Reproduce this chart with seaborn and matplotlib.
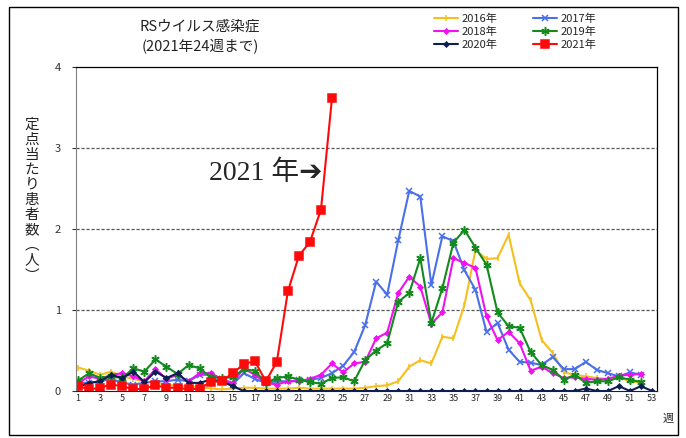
import pandas as pd
import matplotlib.pyplot as plt
from matplotlib.patches import Rectangle
import seaborn as sns

# weekly values per sentinel site
y2016 = [0.29, 0.25, 0.2, 0.24, 0.18, 0.15, 0.12, 0.1, 0.08, 0.06,
         0.06, 0.05, 0.03, 0.02, 0.03, 0.04, 0.04, 0.03, 0.03, 0.03,
         0.04, 0.03, 0.03, 0.03, 0.03, 0.03, 0.04, 0.06, 0.07, 0.12,
         0.3, 0.38, 0.34, 0.67, 0.65, 1.06, 1.74, 1.63, 1.64, 1.93,
         1.33, 1.12, 0.63, 0.47, 0.23, 0.2, 0.18, 0.16, 0.15, 0.17,
         0.12, 0.1]
y2017 = [0.1, 0.1, 0.12, 0.15, 0.1, 0.08, 0.1, 0.12, 0.12, 0.14,
         0.12, 0.2, 0.2, 0.15, 0.08, 0.22, 0.15, 0.1, 0.12, 0.12,
         0.13, 0.14, 0.16, 0.22, 0.31, 0.48, 0.81, 1.35, 1.19, 1.86,
         2.47, 2.4, 1.31, 1.91, 1.85, 1.49, 1.25, 0.73, 0.84, 0.51,
         0.36, 0.35, 0.32, 0.42, 0.27, 0.27, 0.36, 0.26, 0.22, 0.18,
         0.23, 0.2]
y2018 = [0.1, 0.18, 0.15, 0.2, 0.22, 0.18, 0.12, 0.27, 0.15, 0.2,
         0.12, 0.22, 0.22, 0.15, 0.1, 0.28, 0.2, 0.1, 0.08, 0.12,
         0.12, 0.15, 0.2, 0.34, 0.23, 0.34, 0.36, 0.65, 0.72, 1.21,
         1.41, 1.29, 0.83, 0.97, 1.64, 1.58, 1.52, 0.92, 0.63, 0.73,
         0.59, 0.25, 0.3, 0.22, 0.16, 0.17, 0.15, 0.14, 0.15, 0.19,
         0.2, 0.21]
y2019 = [0.13, 0.22, 0.16, 0.18, 0.16, 0.28, 0.24, 0.39, 0.3, 0.21,
         0.32, 0.28, 0.17, 0.16, 0.17, 0.27, 0.25, 0.1, 0.16, 0.18,
         0.14, 0.11, 0.09, 0.16, 0.17, 0.12, 0.38, 0.5, 0.59, 1.1,
         1.21, 1.64, 0.84, 1.27, 1.83, 1.99, 1.77, 1.56, 0.97, 0.8,
         0.78, 0.48, 0.32, 0.26, 0.14, 0.2, 0.1, 0.12, 0.12, 0.17,
         0.14, 0.11]
y2020 = [0.05, 0.1, 0.12, 0.2, 0.16, 0.24, 0.11, 0.24, 0.16, 0.22,
         0.1, 0.1, 0.14, 0.12, 0.06, 0.0, 0.0, 0.0, 0.0, 0.0,
         0.0, 0.0, 0.0, 0.0, 0.0, 0.0, 0.0, 0.0, 0.0, 0.0,
         0.0, 0.0, 0.0, 0.0, 0.0, 0.0, 0.0, 0.0, 0.0, 0.0,
         0.0, 0.0, 0.0, 0.0, 0.0, 0.0, 0.03, 0.0, 0.0, 0.06,
         0.0, 0.06, 0.0]
y2021 = [0.06, 0.02, 0.04, 0.08, 0.06, 0.02, 0.03, 0.07, 0.04, 0.04,
         0.02, 0.03, 0.11, 0.12, 0.22, 0.33, 0.37, 0.12, 0.36, 1.23,
         1.67, 1.84, 2.24, 3.62]

years = ['2016年', '2017年', '2018年', '2019年', '2020年', '2021年']
series = [y2016, y2017, y2018, y2019, y2020, y2021]
colors = ['#F5C01E', '#4A6FE8', '#F010F0', '#138A1E', '#0E1E50', '#FF0A0A']
markers = ['|', 'x', 'D', (6, 2, 0), 'D', 's']
msizes = [4, 5, 2.5, 6, 2.5, 6]

rows = []
for name, vals in zip(years, series):
    for i, v in enumerate(vals):
        rows.append({'year': name, 'week': i + 1, 'value': v})
df = pd.DataFrame(rows)

sns.set_style('white')
plt.rcParams['font.family'] = ['Noto Sans CJK JP', 'DejaVu Sans']

fig = plt.figure(figsize=(6.86, 4.38), dpi=100)
ax = fig.add_axes([76 / 686, 47 / 438, 581 / 686, 324 / 438])

for name, c, m, ms in zip(years, colors, markers, msizes):
    sns.lineplot(data=df[df['year'] == name], x='week', y='value', color=c,
                 marker=m, markersize=ms, markeredgecolor=c, markerfacecolor=c,
                 markeredgewidth=1.1, linewidth=1.5, label=name, ax=ax, legend=False)

ax.set_xlim(0.8, 53.45)
ax.set_ylim(0, 4)
ax.set_xticks(range(1, 54, 2))
ax.set_yticks([0, 1, 2, 3, 4])
ax.tick_params(axis='x', labelsize=6.5, length=0, pad=2)
ax.tick_params(axis='y', labelsize=8, length=3, left=True, pad=8, colors='#333333')
for yv in [1, 2, 3]:
    ax.axhline(yv, color='#555555', linestyle=(0, (2.5, 1.5)), linewidth=0.9, zorder=0)
ax.set_xlabel('')
ax.set_ylabel('')
for s in ['top', 'right']:
    ax.spines[s].set_color('black')
    ax.spines[s].set_linewidth(0.9)
ax.spines['left'].set_color('#808080')
ax.spines['bottom'].set_color('#0E1E50')

fig.text(200 / 686, 1 - 27 / 438, 'RSウイルス感染症', ha='center', va='center', fontsize=10.5,
         color='#222222')
fig.text(200 / 686, 1 - 47 / 438, '(2021年24週まで)', ha='center', va='center', fontsize=10.5,
         color='#222222')

ylab = '\n'.join(list('定点当たり患者数') + ['︵', '人', '︶'])
fig.text(32 / 686, 1 - 200 / 438, ylab, ha='center', va='center', fontsize=10.5,
         linespacing=1.1, color='#222222')
fig.text(668 / 686, 1 - 419 / 438, '週', ha='center', va='center', fontsize=8)

ax.text(23.1, 2.69, '2021 年➔', ha='right', va='center', fontsize=20,
        family=['Liberation Serif', 'Noto Sans CJK JP', 'DejaVu Sans'])

h, l = ax.get_legend_handles_labels()
order = [0, 2, 4, 1, 3, 5]
fig.legend([h[i] for i in order], [l[i] for i in order], ncol=2,
           loc='upper left', bbox_to_anchor=(428 / 686, 1 - 8 / 438),
           frameon=False, fontsize=8, handlelength=2.2, handletextpad=0.3,
           columnspacing=3.2, labelspacing=0.25, borderpad=0)

fig.patches.append(Rectangle((9 / 686, 3 / 438), 669 / 686, 428 / 438, transform=fig.transFigure,
                             fill=False, edgecolor='black', linewidth=1))

fig.savefig('out.png', dpi=100)
